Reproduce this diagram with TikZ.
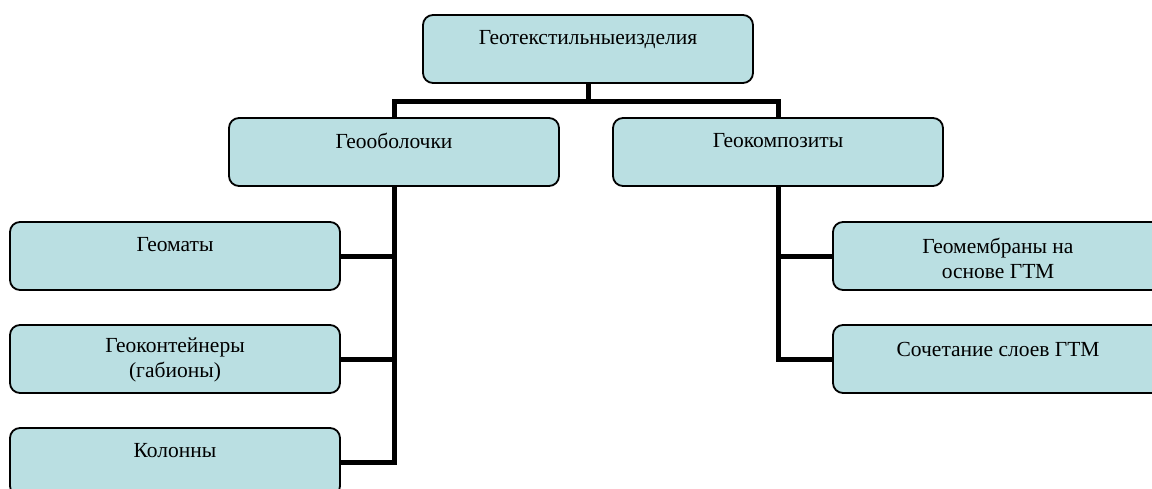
\documentclass[tikz,border=0pt]{standalone}
\usepackage{fontspec}
\setmainfont{Liberation Serif}
\definecolor{boxfill}{RGB}{186,223,226}
\begin{document}
\begin{tikzpicture}[x=1pt,y=-1pt,
  box/.style={draw=black, line width=1.8pt, fill=boxfill, rounded corners=10pt,
    minimum width=330pt, minimum height=68pt, inner sep=0pt, outer sep=0pt, anchor=north west},
  lbl/.style={font=\fontsize{21.5}{25}\selectfont, align=center, anchor=north, inner sep=0pt},
  conn/.style={line width=5pt}]
\useasboundingbox (0,0) rectangle (1152,488);
% boxes
\node[box] (top) at (423,15) {};
\node[box] (geo1) at (229,118) {};
\node[box] (geo2) at (613,118) {};
\node[box] (l1) at (10,222) {};
\node[box] (l2) at (10,325) {};
\node[box] (l3) at (10,428) {};
\node[box] (r1) at (833,222) {};
\node[box] (r2) at (833,325) {};
% texts
\node[lbl] (ttop) at (588,30) {Геотекстильныеизделия};
\node[lbl] (tgeo1) at (394,133) {Геооболочки};
\node[lbl] (tgeo2) at (778,133) {Геокомпозиты};
\node[lbl] (tl1) at (175,237) {Геоматы};
\node[lbl] (tl2) at (175,338) {Геоконтейнеры\\(габионы)};
\node[lbl] (tl3) at (175,443) {Колонны};
\node[lbl] (tr1) at (998,238) {Геомембраны на\\основе ГТМ};
\node[lbl] (tr2) at (998,342) {Сочетание слоев ГТМ};
% connectors
\coordinate (j0) at (588,101);
\draw[conn] (top.south) -- (top.south |- j0);
\draw[conn] (geo1.north) |- (j0) -| (geo2.north);
\draw[conn] (geo1.south) |- (l3.east);
\draw[conn] (l1.east) -- (l1.east -| geo1.south);
\draw[conn] (l2.east) -- (l2.east -| geo1.south);
\draw[conn] (geo2.south) |- (r2.west);
\draw[conn] (r1.west) -- (r1.west -| geo2.south);
\end{tikzpicture}
\end{document}
